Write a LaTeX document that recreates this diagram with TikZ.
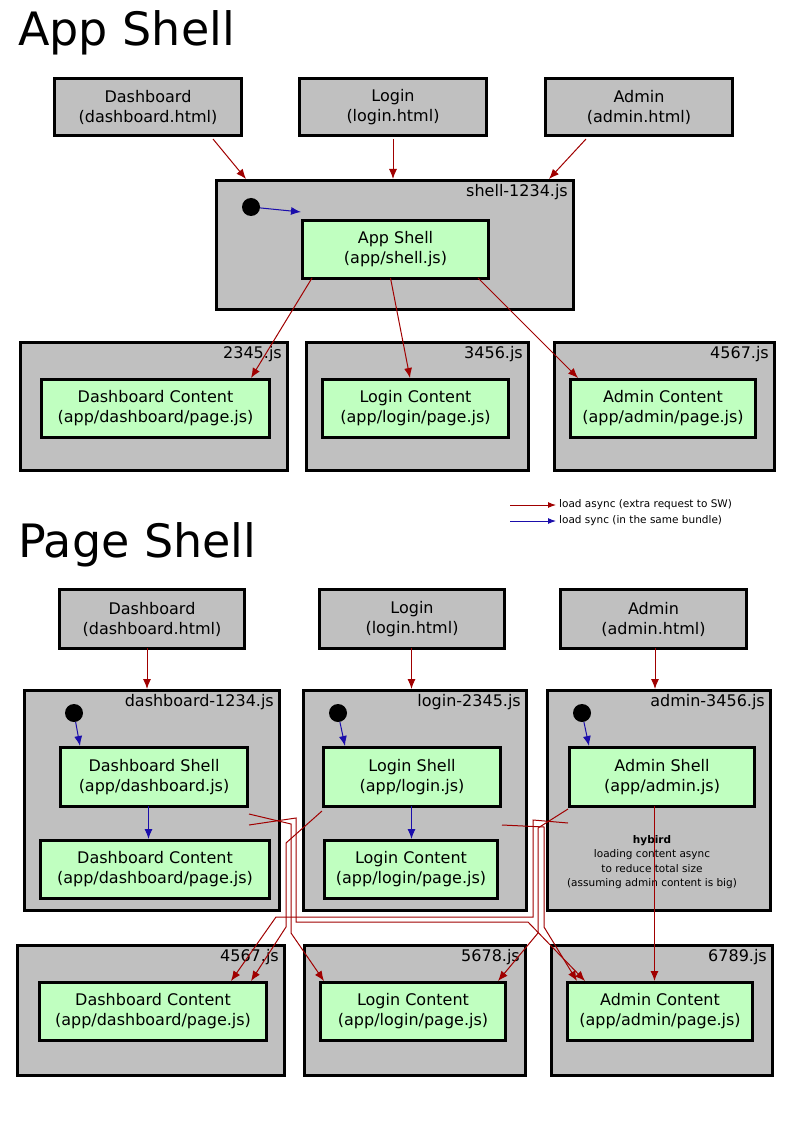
\documentclass[tikz,border=0pt]{standalone}
\usepackage{fontspec}
\setmainfont{DejaVu Sans}
\usetikzlibrary{arrows.meta}
\definecolor{gbox}{HTML}{C0C0C0}
\definecolor{gcont}{HTML}{C0FFC0}
\definecolor{ared}{HTML}{A00000}
\definecolor{ablue}{HTML}{1A0DAB}
\begin{document}
\begin{tikzpicture}[x=1pt,y=-1pt,
  box/.style={draw=black,line width=3pt,fill=gbox,anchor=north west,inner sep=0pt,align=center,font=\fontsize{16}{20}\selectfont},
  cont/.style={draw=black,line width=3pt,fill=gbox,anchor=north west,inner sep=0pt},
  inner/.style={draw=black,line width=3pt,fill=gcont,anchor=north west,inner sep=0pt,align=center,font=\fontsize{16}{20}\selectfont},
  lbl/.style={anchor=north east,font=\fontsize{16}{20}\selectfont,inner sep=0pt},
  dot/.style={circle,fill=black,minimum size=18pt,inner sep=0pt},
  ra/.style={draw=ared,line width=1pt,-{Latex[length=10pt,width=8pt]}},
  ba/.style={draw=ablue,line width=1pt,-{Latex[length=10pt,width=8pt]}},
  title/.style={anchor=west,font=\fontsize{46}{50}\selectfont,inner sep=0pt}]
\useasboundingbox (0,0) rectangle (800,1131);
% ---------- App Shell ----------
\node[title] (t1) at (18,33) {App Shell};
\node[box,minimum width=187pt,minimum height=57pt] (d1) at (53,77) {Dashboard\\(dashboard.html)};
\node[box,minimum width=187pt,minimum height=57pt] (l1) at (298,77) {Login\\(login.html)};
\node[box,minimum width=187pt,minimum height=57pt] (a1) at (544,77) {Admin\\(admin.html)};
\node[cont,minimum width=357pt,minimum height=129pt] (s1) at (215,179) {};
\node[lbl] (s1l) at (568,184) {shell-1234.js};
\node[dot] (dot1) at (251,207) {};
\node[inner,minimum width=186pt,minimum height=58pt] (as) at (301,219) {App Shell\\(app/shell.js)};
\node[cont,minimum width=267pt,minimum height=128pt] (c2345) at (19,341) {};
\node[lbl] (c2345l) at (282,346) {2345.js};
\node[cont,minimum width=222pt,minimum height=128pt] (c3456) at (305,341) {};
\node[lbl] (c3456l) at (523,346) {3456.js};
\node[cont,minimum width=220pt,minimum height=128pt] (c4567) at (553,341) {};
\node[lbl] (c4567l) at (769,346) {4567.js};
\node[inner,minimum width=228pt,minimum height=58pt] (dc1) at (40,378) {Dashboard Content\\(app/dashboard/page.js)};
\node[inner,minimum width=186pt,minimum height=58pt] (lc1) at (321,378) {Login Content\\(app/login/page.js)};
\node[inner,minimum width=185pt,minimum height=58pt] (ac1) at (569,378) {Admin Content\\(app/admin/page.js)};
\draw[ra] ([xshift=-30pt,yshift=-2pt]d1.south east) -- ([xshift=31pt]s1.north west);
\draw[ra] ([yshift=-2pt]l1.south) -- (l1.south |- s1.north);
\draw[ra] ([xshift=-148pt,yshift=-2pt]a1.south east) -- ([xshift=-26pt]s1.north east);
\draw[ba] (dot1) -- ([yshift=7pt]as.north west);
\draw[ra] ([xshift=11pt,yshift=2pt]as.south west) -- ([xshift=-20pt]dc1.north east);
\draw[ra] ([xshift=-5pt,yshift=2pt]as.south) -- ([xshift=89pt]lc1.north west);
\draw[ra] ([xshift=-12pt,yshift=2pt]as.south east) -- ([xshift=9pt]ac1.north west);
% legend
\coordinate (lg1) at (510,505); \coordinate (lg1e) at (556,505);
\coordinate (lg2) at (510,521); \coordinate (lg2e) at (556,521);
\draw[ra,-{Latex[length=8pt,width=6pt]}] (lg1) -- (lg1e);
\draw[ba,-{Latex[length=8pt,width=6pt]}] (lg2) -- (lg2e);
\node[anchor=west,inner sep=0pt,font=\fontsize{10.5}{12}\selectfont] (lgt1) at (559,505) {load async (extra request to SW)};
\node[anchor=west,inner sep=0pt,font=\fontsize{10.5}{12}\selectfont] (lgt2) at (559,521) {load sync (in the same bundle)};
% ---------- Page Shell ----------
\node[title] (t2) at (18,545) {Page Shell};
\node[box,minimum width=185pt,minimum height=59pt] (d2) at (58,588) {Dashboard\\(dashboard.html)};
\node[box,minimum width=185pt,minimum height=59pt] (l2) at (318,588) {Login\\(login.html)};
\node[box,minimum width=186pt,minimum height=59pt] (a2) at (559,588) {Admin\\(admin.html)};
\node[cont,minimum width=255pt,minimum height=220pt] (ds) at (23,689) {};
\node[lbl] (dsl) at (274,694) {dashboard-1234.js};
\node[cont,minimum width=223pt,minimum height=220pt] (ls) at (302,689) {};
\node[lbl] (lsl) at (521,694) {login-2345.js};
\node[cont,minimum width=223pt,minimum height=220pt] (adm) at (546,689) {};
\node[lbl] (adml) at (765,694) {admin-3456.js};
\node[dot] (dot2) at (74,713) {};
\node[dot] (dot3) at (338,713) {};
\node[dot] (dot4) at (582,713) {};
\node[inner,minimum width=187pt,minimum height=59pt] (dsh) at (59,746) {Dashboard Shell\\(app/dashboard.js)};
\node[inner,minimum width=177pt,minimum height=59pt] (lsh) at (322,746) {Login Shell\\(app/login.js)};
\node[inner,minimum width=185pt,minimum height=59pt] (ash) at (568,746) {Admin Shell\\(app/admin.js)};
\node[inner,minimum width=229pt,minimum height=58pt] (dci) at (39,839) {Dashboard Content\\(app/dashboard/page.js)};
\node[inner,minimum width=173pt,minimum height=58pt] (lci) at (323,839) {Login Content\\(app/login/page.js)};
\node[align=center,inner sep=0pt,font=\fontsize{10.5}{14.5}\selectfont] (hyb) at (652,862) {\textbf{hybird}\\loading content async\\to reduce total size\\(assuming admin content is big)};
\node[cont,minimum width=267pt,minimum height=130pt] (b4567) at (16,944) {};
\node[lbl] (b4567l) at (279,949) {4567.js};
\node[cont,minimum width=221pt,minimum height=130pt] (b5678) at (303,944) {};
\node[lbl] (b5678l) at (520,949) {5678.js};
\node[cont,minimum width=221pt,minimum height=130pt] (b6789) at (550,944) {};
\node[lbl] (b6789l) at (767,949) {6789.js};
\node[inner,minimum width=227pt,minimum height=58pt] (dco) at (38,981) {Dashboard Content\\(app/dashboard/page.js)};
\node[inner,minimum width=185pt,minimum height=58pt] (lco) at (319,981) {Login Content\\(app/login/page.js)};
\node[inner,minimum width=185pt,minimum height=58pt] (aco) at (566,981) {Admin Content\\(app/admin/page.js)};
% arrows
\draw[ra] ([xshift=-5pt,yshift=2pt]d2.south) -- ([xshift=-5pt]d2.south |- ds.north);
\draw[ra] ([xshift=-0.5pt,yshift=2pt]l2.south) -- ([xshift=-0.5pt]l2.south |- ls.north);
\draw[ra] ([xshift=1.5pt,yshift=2pt]a2.south) -- ([xshift=1.5pt]a2.south |- adm.north);
\draw[ba] (dot2) -- ([xshift=21pt]dsh.north west);
\draw[ba] (dot3) -- ([xshift=23pt]lsh.north west);
\draw[ba] (dot4) -- ([xshift=21pt]ash.north west);
\draw[ba] ([xshift=-5.5pt,yshift=2pt]dsh.south) -- ([xshift=-5.5pt]dsh.south |- dci.north);
\draw[ba] ([xshift=-0.5pt,yshift=2pt]lsh.south) -- ([xshift=-0.5pt]lsh.south |- lci.north);
% crossing async loads
\draw[ra] ([yshift=-17pt]dsh.south east) -- (296,818) -- (296,922) -- (528,922) -- ([xshift=19pt]aco.north west);
\draw[ra] ([yshift=-6pt]dsh.south east) -- (291,824) -- (291,933) -- ([xshift=5pt]lco.north west);
\draw[ra] ([yshift=-3pt]lsh.south west) -- (286,843) -- (286,927) -- ([xshift=-17pt]dco.north east);
\draw[ra] ([yshift=-17pt]lsh.south east) -- (544,827) -- (544,927) -- ([xshift=11pt]aco.north west);
\draw[ra] ([yshift=-15pt]ash.south west) -- (533,820) -- (533,917) -- (276,917) -- ([xshift=-37pt]dco.north east);
\draw[ra] ([yshift=-1pt]ash.south west) -- (538,828) -- (538,933) -- ([xshift=-9pt]lco.north east);
\draw[ra] ([xshift=-7.5pt,yshift=2pt]ash.south) -- ([xshift=-7.5pt]ash.south |- aco.north);
\end{tikzpicture}
\end{document}
